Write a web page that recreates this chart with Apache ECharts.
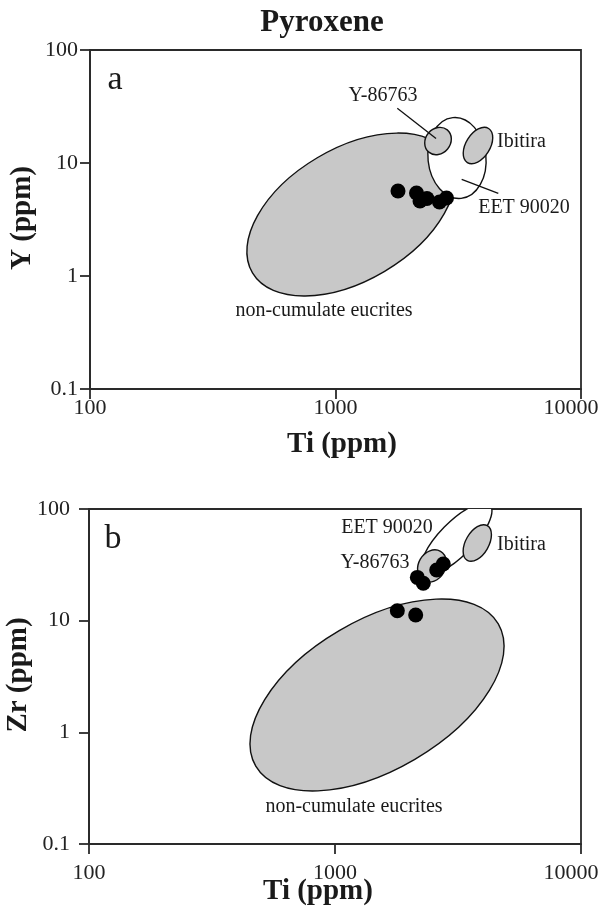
<!DOCTYPE html>
<html>
<head>
<meta charset="utf-8">
<script src="https://cdn.jsdelivr.net/npm/echarts@6/dist/echarts.min.js"></script>
<style>
  html, body { margin: 0; padding: 0; background: #fff; }
  #chart { width: 610px; height: 921px; }
</style>
</head>
<body>
<div id="chart"></div>
<script>
// Tick values on the log axes
const tiTicks = [100, 1000, 10000];
const ppmTicks = [0.1, 1, 10, 100];

// Fields as ellipses: [centre Ti, centre ppm, major-axis end Ti, ppm, minor-axis end Ti, ppm]
// Panel a: Y vs Ti
const eucriteFieldY = [1156, 3.50, 2911, 11.5, 1585, 1.10];
const eetFieldY = [3125, 11.07, 3004, 25.2, 4095, 11.77];
const y86763FieldY = [2616, 15.65, 2853, 19.63, 2861, 13.3];
const ibitiraFieldY = [3805, 14.28, 4204, 20.2, 4188, 12.54];
// Panel b: Zr vs Ti
const eucriteFieldZr = [1482, 2.16, 4611, 9.37, 2110, 0.572];
const eetFieldZr = [3115, 53.9, 4256, 108.6, 3488, 42.2];
const y86763FieldZr = [2479, 30.9, 2685, 41.8, 2766, 26.9];
const ibitiraFieldZr = [3788, 49.6, 4160, 70.9, 4160, 44.06];

// Pyroxene analyses [Ti, ppm]
const pyxY = [[1797, 5.65], [2138, 5.43], [2209, 4.61], [2358, 4.85], [2652, 4.52], [2832, 4.90]];
const pyxZr = [[1792, 12.28], [2128, 11.24], [2161, 24.4], [2285, 21.6], [2591, 28.4], [2755, 32.2]];

// Leader lines for field labels in panel a [Ti, Y]
const leaderY86763 = [[1785, 30.5], [2567, 16.5]];
const leaderEET = [[3266, 7.17], [4605, 5.39]];

const SERIF = '"Liberation Serif", "Times New Roman", serif';
const INK = '#2a2a2a';
const GREY = '#c8c8c8';

function ellipseRenderer(fill) {
  return function (params, api) {
    const c = api.coord([api.value(0), api.value(1)]);
    const m = api.coord([api.value(2), api.value(3)]);
    const n = api.coord([api.value(4), api.value(5)]);
    const rx = Math.hypot(m[0] - c[0], m[1] - c[1]);
    const ry = Math.hypot(n[0] - c[0], n[1] - c[1]);
    const rot = Math.atan2(c[1] - m[1], m[0] - c[0]);
    const cs = params.coordSys;
    return {
      type: 'group',
      clipPath: { type: 'rect', shape: { x: cs.x, y: cs.y, width: cs.width, height: cs.height } },
      children: [{
        type: 'ellipse',
        x: c[0], y: c[1], rotation: rot,
        shape: { cx: 0, cy: 0, rx: rx, ry: ry },
        style: { fill: fill, stroke: '#111', lineWidth: 1.4 }
      }]
    };
  };
}

function fieldSeries(idx, field, fill) {
  return {
    type: 'custom', xAxisIndex: idx, yAxisIndex: idx,
    renderItem: ellipseRenderer(fill),
    encode: { x: [0, 2, 4], y: [1, 3, 5] },
    data: [field], silent: true
  };
}

function matchTick(list, v) {
  for (const t of list) { if (Math.abs(Math.log10(v) - Math.log10(t)) < 1e-6) return t; }
  return null;
}

const labelFont = { fontFamily: SERIF, fontSize: 22, color: '#222' };

function xAxisFor(idx, margin) {
  return {
    type: 'log', logBase: 10, gridIndex: idx, min: 100, max: 10000, splitNumber: 2,
    axisLine: { show: true, lineStyle: { color: INK, width: 1.8 } },
    axisTick: { show: true, length: 10, inside: false, lineStyle: { color: INK, width: 1.8 } },
    minorTick: { show: false }, splitLine: { show: false },
    axisLabel: Object.assign({
      formatter: function (v) {
        const t = matchTick(tiTicks, v);
        if (t === null) return '';
        // the last label sits a little inside the frame edge
        return t === tiTicks[tiTicks.length - 1] ? '{edge|' + t + '}' : String(t);
      },
      rich: { edge: Object.assign({ padding: [0, 20, 0, 0] }, labelFont) },
      margin: margin, showMinLabel: true, showMaxLabel: true
    }, labelFont)
  };
}

function yAxisFor(idx, margin) {
  return {
    type: 'log', logBase: 10, gridIndex: idx, min: 0.1, max: 100, splitNumber: 3,
    axisLine: { show: true, lineStyle: { color: INK, width: 1.8 } },
    axisTick: { show: true, length: 10, inside: false, lineStyle: { color: INK, width: 1.8 } },
    minorTick: { show: false }, splitLine: { show: false },
    axisLabel: Object.assign({
      formatter: function (v) { const t = matchTick(ppmTicks, v); return t === null ? '' : String(t); },
      margin: margin, showMinLabel: true, showMaxLabel: true
    }, labelFont)
  };
}

function txt(text, x, y, size, opts) {
  opts = opts || {};
  return {
    type: 'text', x: x, y: y, rotation: opts.rotation || 0, z: 100,
    style: {
      text: text, fill: '#1a1a1a', font: (opts.bold ? 'bold ' : '') + size + 'px ' + SERIF,
      textAlign: opts.align || 'center', textVerticalAlign: 'middle'
    }
  };
}

const chart = echarts.init(document.getElementById('chart'), null, { renderer: 'canvas' });

chart.setOption({
  backgroundColor: '#fff',
  animation: false,
  grid: [
    { left: 90, top: 50, width: 491, height: 339, show: true, borderColor: INK, borderWidth: 1.8, outerBoundsMode: 'none' },
    { left: 89, top: 509, width: 492, height: 335, show: true, borderColor: INK, borderWidth: 1.8, outerBoundsMode: 'none' }
  ],
  xAxis: [xAxisFor(0, 8), xAxisFor(1, 18)],
  yAxis: [yAxisFor(0, 12), yAxisFor(1, 19)],
  series: [
    fieldSeries(0, eucriteFieldY, GREY),
    fieldSeries(0, eetFieldY, '#fff'),
    fieldSeries(0, y86763FieldY, GREY),
    fieldSeries(0, ibitiraFieldY, GREY),
    { type: 'line', xAxisIndex: 0, yAxisIndex: 0, data: leaderY86763, showSymbol: false, symbol: 'none', lineStyle: { color: '#111', width: 1.3 }, silent: true },
    { type: 'line', xAxisIndex: 0, yAxisIndex: 0, data: leaderEET, showSymbol: false, symbol: 'none', lineStyle: { color: '#111', width: 1.3 }, silent: true },
    { type: 'scatter', xAxisIndex: 0, yAxisIndex: 0, data: pyxY, symbol: 'circle', symbolSize: 15, itemStyle: { color: '#000', opacity: 1 }, z: 5 },

    fieldSeries(1, eucriteFieldZr, GREY),
    fieldSeries(1, eetFieldZr, '#fff'),
    fieldSeries(1, y86763FieldZr, GREY),
    fieldSeries(1, ibitiraFieldZr, GREY),
    { type: 'scatter', xAxisIndex: 1, yAxisIndex: 1, data: pyxZr, symbol: 'circle', symbolSize: 15, itemStyle: { color: '#000', opacity: 1 }, z: 5 }
  ],
  graphic: [
    txt('Pyroxene', 322, 23, 31, { bold: true }),
    txt('a', 115, 80, 34),
    txt('Y-86763', 383, 96, 20),
    txt('Ibitira', 497, 142, 20, { align: 'left' }),
    txt('EET 90020', 524, 208, 20),
    txt('non-cumulate eucrites', 324, 311, 20),
    txt('Ti (ppm)', 342, 445, 29, { bold: true }),
    txt('Y (ppm)', 23, 218, 29, { bold: true, rotation: Math.PI / 2 }),

    txt('b', 113, 539, 34),
    txt('EET 90020', 387, 528, 20),
    txt('Y-86763', 375, 563, 20),
    txt('Ibitira', 497, 545, 20, { align: 'left' }),
    txt('non-cumulate eucrites', 354, 807, 20),
    txt('Ti (ppm)', 318, 892, 29, { bold: true }),
    txt('Zr (ppm)', 19, 675, 29, { bold: true, rotation: Math.PI / 2 })
  ]
});
</script>
</body>
</html>
